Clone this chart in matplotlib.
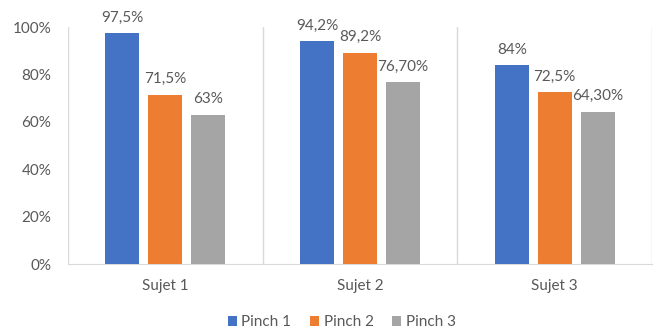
import matplotlib.pyplot as plt
import numpy as np

plt.rcParams['font.family'] = ['Lato', 'DejaVu Sans']

categories = ["Sujet 1", "Sujet 2", "Sujet 3"]
series_names = ["Pinch 1", "Pinch 2", "Pinch 3"]
pinch1 = [97.5, 94.2, 84.0]
pinch2 = [71.5, 89.2, 72.5]
pinch3 = [63.0, 76.7, 64.3]
labels1 = ["97,5%", "94,2%", "84%"]
labels2 = ["71,5%", "89,2%", "72,5%"]
labels3 = ["63%", "76,70%", "64,30%"]
y_ticks = [0, 20, 40, 60, 80, 100]

colors = ["#4472C4", "#ED7D31", "#A5A5A5"]
text_color = "#595959"
line_color = "#D9D9D9"

fig = plt.figure(figsize=(6.57, 3.31), dpi=100)
ax = fig.add_axes([0.1035, 0.2024, 0.889, 0.7160])

x = np.arange(len(categories))
width = 0.175
step = 0.221
series = [pinch1, pinch2, pinch3]
labels = [labels1, labels2, labels3]
for i, (vals, labs) in enumerate(zip(series, labels)):
    bars = ax.bar(x + (i - 1) * step, vals, width, color=colors[i], label=series_names[i], zorder=3)
    ax.bar_label(bars, labels=labs, padding=6, fontsize=11, color=text_color)

# separators between categories
for b in np.arange(-0.5, len(categories), 1.0):
    ax.axvline(b, color=line_color, linewidth=1, zorder=1)

ax.set_xlim(-0.5, len(categories) - 0.5)
ax.set_ylim(0, 100)
ax.set_yticks(y_ticks)
ax.set_yticklabels([f"{t}%" for t in y_ticks])
ax.set_xticks(x)
ax.set_xticklabels(categories)
ax.tick_params(axis='both', length=0, labelsize=11, labelcolor=text_color)
ax.tick_params(axis='y', pad=12)
ax.tick_params(axis='x', pad=11)

for s in ["top", "right", "left"]:
    ax.spines[s].set_visible(False)
ax.spines["bottom"].set_color(line_color)

fig.legend(loc="center", bbox_to_anchor=(0.52, 0.027), ncol=3, frameon=False,
           fontsize=11, labelcolor=text_color, handlelength=0.6, handleheight=0.6,
           handletextpad=0.3, columnspacing=1.2)

fig.savefig("out.png", dpi=100)
